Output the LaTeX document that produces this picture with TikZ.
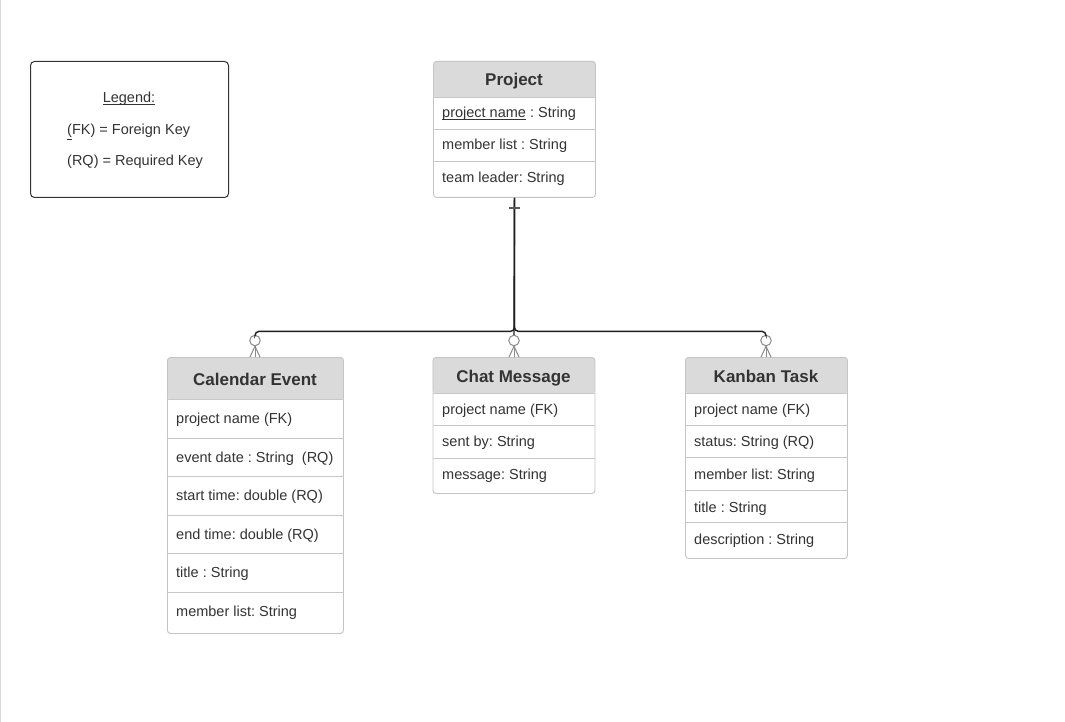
\documentclass[tikz,border=0pt]{standalone}
\usepackage{fontspec}
\setmainfont{Liberation Sans}
\definecolor{txt}{HTML}{333333}
\definecolor{bordercol}{HTML}{C4C4C4}
\definecolor{hdrfill}{HTML}{DADADA}
\definecolor{sepcol}{HTML}{C8C8C8}
\definecolor{conncol}{HTML}{1E1E1E}
\definecolor{markcol}{HTML}{8A8A8A}
\newcommand\ulx[1]{\underline{\smash{#1}}}
\frenchspacing
\begin{document}
\begin{tikzpicture}[x=1pt,y=-1pt,
  tablebox/.style={draw=bordercol, line width=0.9pt, rounded corners=3pt, anchor=north west, inner sep=0pt,
    path picture={\fill[hdrfill] (path picture bounding box.north west) rectangle ([yshift=-#1]path picture bounding box.north east);}},
  legendbox/.style={draw=txt, line width=1pt, rounded corners=4pt, anchor=north west, inner sep=0pt},
  hdrtxt/.style={font=\fontsize{17}{20}\selectfont\bfseries, text=txt, anchor=base, inner sep=0pt},
  rowtxt/.style={font=\fontsize{14.5}{17}\selectfont, text=txt, anchor=base west, inner sep=0pt},
  legtxt/.style={font=\fontsize{14.5}{17}\selectfont, text=txt, inner sep=0pt},
  sep/.style={draw=sepcol, line width=0.9pt},
  conn/.style={draw=conncol, line width=1.4pt, rounded corners=4pt},
  zcirc/.style={circle, draw=markcol, fill=white, line width=1pt, minimum size=10.5pt, inner sep=0pt},
  foot/.style={draw=markcol, line width=1pt},
  onemark/.style={draw=black!65, line width=1.4pt}
]
\useasboundingbox (0,0) rectangle (1065,722);
\fill[white] (0,0) rectangle (1065,722);
\draw[draw=black!15, line width=1pt] (0.5,0) -- (0.5,722);

% Legend
\node[legendbox, minimum width=198pt, minimum height=136pt] (legend) at (30,61) {};
\node[legtxt, anchor=base] (leg1) at (129,103) {\ulx{Legend:}};
\node[legtxt, anchor=base west] (leg2) at (67,135) {\underline{(}FK) = Foreign Key};
\node[legtxt, anchor=base west] (leg3) at (67,166) {(RQ) = Required Key};

% Project
\node[tablebox=36pt, minimum width=162pt, minimum height=136pt] (proj) at (433,61) {};
\node[hdrtxt] (proj-h) at (514,85.5) {Project};
\foreach \y in {97,129,161} \draw[sep] (proj.west |- 0,\y) -- (proj.east |- 0,\y);
\node[rowtxt] (proj-1) at (442,118) {\ulx{project name} : String};
\node[rowtxt] (proj-2) at (442,150) {member list : String};
\node[rowtxt] (proj-3) at (442,183) {team leader: String};

% Calendar Event
\node[tablebox=42pt, minimum width=176pt, minimum height=276pt] (cal) at (167,357) {};
\node[hdrtxt] (cal-h) at (255,385) {Calendar Event};
\foreach \y in {399,438,476,515,553,592} \draw[sep] (cal.west |- 0,\y) -- (cal.east |- 0,\y);
\node[rowtxt] (cal-1) at (176,423) {project name (FK)};
\node[rowtxt] (cal-2) at (176,462) {event date : String\ \ (RQ)};
\node[rowtxt] (cal-3) at (176,500) {start time: double (RQ)};
\node[rowtxt] (cal-4) at (176,539) {end time: double (RQ)};
\node[rowtxt] (cal-5) at (176,577) {title : String};
\node[rowtxt] (cal-6) at (176,616) {member list: String};

% Chat Message
\node[tablebox=36pt, minimum width=162pt, minimum height=136pt] (chat) at (432.5,357) {};
\node[hdrtxt] (chat-h) at (513.5,382) {Chat Message};
\foreach \y in {393,425,458} \draw[sep] (chat.west |- 0,\y) -- (chat.east |- 0,\y);
\node[rowtxt] (chat-1) at (442,414) {project name (FK)};
\node[rowtxt] (chat-2) at (442,446) {sent by: String};
\node[rowtxt] (chat-3) at (442,479) {message: String};

% Kanban Task
\node[tablebox=36pt, minimum width=162pt, minimum height=201pt] (kan) at (685,357) {};
\node[hdrtxt] (kan-h) at (766,382) {Kanban Task};
\foreach \y in {393,425,457,490,522} \draw[sep] (kan.west |- 0,\y) -- (kan.east |- 0,\y);
\node[rowtxt] (kan-1) at (694,414) {project name (FK)};
\node[rowtxt] (kan-2) at (694,446) {status: String (RQ)};
\node[rowtxt] (kan-3) at (694,479) {member list: String};
\node[rowtxt] (kan-4) at (694,512) {title : String};
\node[rowtxt] (kan-5) at (694,544) {description : String};

% zero-or-many markers
\node[zcirc] (calz) at (255,340.5) {};
\node[zcirc] (chatz) at (514,340.5) {};
\node[zcirc] (kanz) at (766,340.5) {};

% connectors
\draw[conn] (proj.south) -- ++(0,133.5) -| (calz.north);
\draw[conn] (proj.south) -- ++(0,133.5) -| (kanz.north);
\draw[conn] (proj.south) -- (chatz.north);

% one mark at Project
\draw[onemark] ([xshift=-5.5pt,yshift=-10pt]proj.south) -- ([xshift=5.5pt,yshift=-10pt]proj.south);

% crow's feet
\foreach \n/\t in {calz/cal, chatz/chat, kanz/kan}{
  \draw[foot] (\n.south) -- (\n.south |- \t.north);
  \draw[foot] (\n.south) -- ([xshift=-5pt]\n.south |- \t.north);
  \draw[foot] (\n.south) -- ([xshift=5pt]\n.south |- \t.north);
}
\end{tikzpicture}
\end{document}
